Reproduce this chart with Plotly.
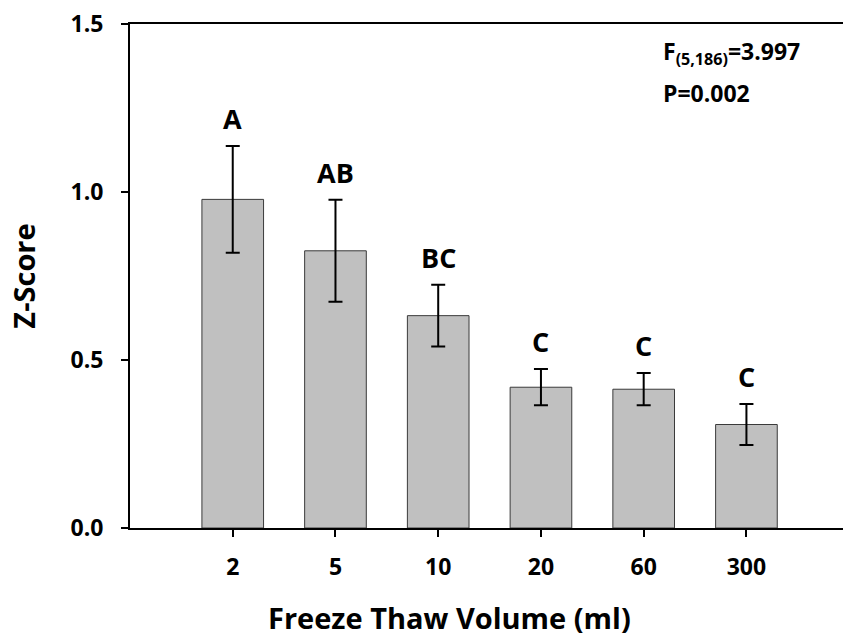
import plotly.graph_objects as go

categories = ["2", "5", "10", "20", "60", "300"]
z_scores = [0.978, 0.825, 0.632, 0.419, 0.413, 0.308]
errors = [0.159, 0.152, 0.092, 0.054, 0.048, 0.061]
group_letters = ["A", "AB", "BC", "C", "C", "C"]
y_ticks = [0.0, 0.5, 1.0, 1.5]
y_tick_labels = ["0.0", "0.5", "1.0", "1.5"]
x_title = "Freeze Thaw Volume (ml)"
y_title = "Z-Score"

FONT = "Open Sans"

fig = go.Figure()
fig.add_trace(go.Bar(
    x=categories,
    y=z_scores,
    width=0.6,
    marker=dict(color="#c0c0c0", line=dict(color="#3a3a3a", width=1)),
    error_y=dict(type="data", array=errors, visible=True,
                 color="black", thickness=2, width=7),
    showlegend=False,
))

for i, (v, e, t) in enumerate(zip(z_scores, errors, group_letters)):
    fig.add_annotation(x=i, y=v + e, text=f"<b>{t}</b>", showarrow=False,
                       yanchor="bottom", yshift=7,
                       font=dict(family=FONT, size=27, color="black"))

fig.add_annotation(x=4.17, y=1.415, text="<b>F<sub>(5,186)</sub>=3.997</b>",
                   showarrow=False, xanchor="left", yanchor="middle",
                   font=dict(family=FONT, size=23, color="black"))
fig.add_annotation(x=4.17, y=1.294, text="<b>P=0.002</b>",
                   showarrow=False, xanchor="left", yanchor="middle",
                   font=dict(family=FONT, size=23, color="black"))

# x-axis title (the reference image is cropped on the right, so the title is
# centred left of the plot-area centre)
fig.add_annotation(x=2.107, y=0, text=f"<b>{x_title}</b>", showarrow=False,
                   xanchor="center", yanchor="middle", yshift=-89,
                   font=dict(family=FONT, size=29, color="black"))

fig.update_layout(
    width=843, height=644,
    margin=dict(l=130, r=0, t=24, b=116),
    plot_bgcolor="white", paper_bgcolor="white",
    font=dict(family=FONT, color="black"),
    bargap=0.4,
)
fig.update_xaxes(
    type="category",
    range=[-1, 5.94],
    showline=True, linecolor="black", linewidth=2, mirror=True,
    ticks="outside", ticklen=7, tickwidth=2, tickcolor="black",
    tickfont=dict(family=FONT, size=23, color="black"),
    ticklabelstandoff=10,
    showgrid=False, zeroline=False,
    tickprefix="<b>", ticksuffix="</b>",
)
fig.update_yaxes(
    range=[0, 1.5],
    tickvals=y_ticks, ticktext=[f"<b>{t}</b>" for t in y_tick_labels],
    showline=True, linecolor="black", linewidth=2,
    ticks="outside", ticklen=7, tickwidth=2, tickcolor="black",
    tickfont=dict(family=FONT, size=23, color="black"),
    ticklabelstandoff=13,
    showgrid=False, zeroline=False,
    title=dict(text=f"<b>{y_title}</b>",
               font=dict(family=FONT, size=29, color="black"), standoff=26),
)

fig.write_html("out.html")
